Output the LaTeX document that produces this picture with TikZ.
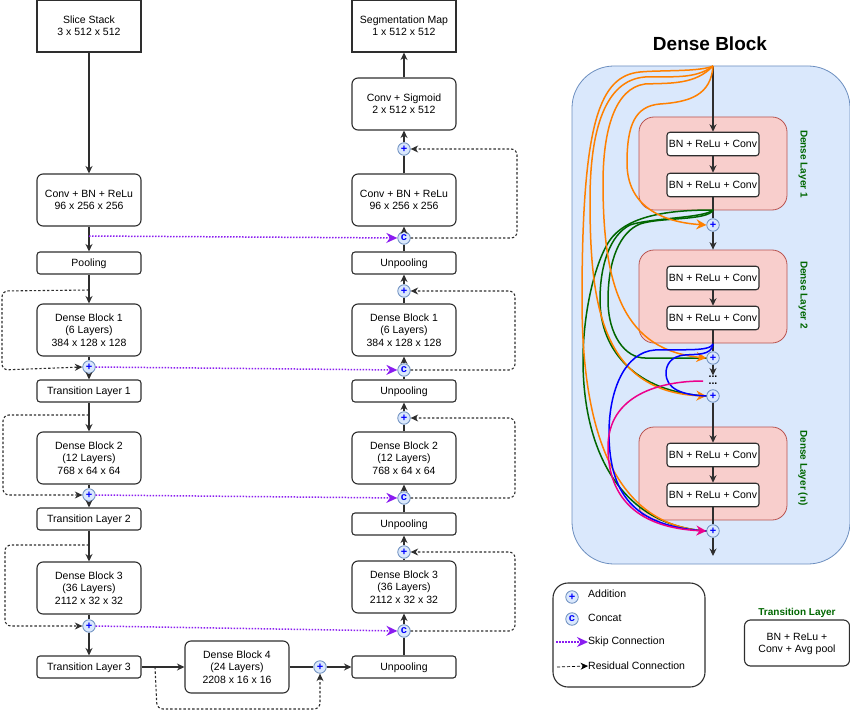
\documentclass[tikz,border=0pt]{standalone}
\usepackage{fontspec}
\setmainfont{Liberation Sans}
\usepackage{xcolor}
\usetikzlibrary{arrows.meta,positioning,calc}
\definecolor{panelblue}{HTML}{DAE8FC}
\definecolor{paneledge}{HTML}{6C8EBF}
\definecolor{layerpink}{HTML}{F8CECC}
\definecolor{layeredge}{HTML}{B85450}
\definecolor{skipviolet}{HTML}{8A1CF0}
\definecolor{leafgreen}{HTML}{006600}
\definecolor{curveorange}{HTML}{FF8000}
\definecolor{edgegray}{HTML}{2E2E2E}
\newcommand{\bodyfont}{\fontsize{10.5}{12.2}\selectfont}
\begin{document}
\begin{tikzpicture}[
    x=1pt, y=-1pt,
    box/.style={rectangle, draw=edgegray, line width=1.1pt, rounded corners=6pt, minimum width=104pt, align=center, inner sep=0pt, text depth=0pt, font=\bodyfont},
    tallbox/.style={box, minimum height=52pt},
    flatbox/.style={box, minimum height=22pt, rounded corners=3pt},
    squarebox/.style={tallbox, rounded corners=0pt},
    convbox/.style={box, fill=white, minimum width=92pt, minimum height=23.5pt, rounded corners=3pt},
    layerbox/.style={rectangle, draw=layeredge, fill=layerpink, line width=0.8pt, rounded corners=15pt, minimum width=148pt, minimum height=93pt},
    addnode/.style={circle, draw=paneledge, fill=panelblue, line width=0.8pt, minimum size=12.5pt, inner sep=0pt, text=blue, font=\fontsize{11}{11}\selectfont\bfseries},
    layerlabel/.style={rotate=-90, text=leafgreen, font=\fontsize{10}{12}\selectfont\bfseries},
    arrow/.style={-{Stealth[length=7.5pt,width=7pt]}, line width=1.1pt, edgegray},
    link/.style={line width=1.1pt, edgegray},
    residual/.style={-{Stealth[length=7.5pt,width=7pt]}, line width=1.1pt, edgegray, dash pattern=on 2.4pt off 2pt, rounded corners=6pt},
    skip/.style={-{Stealth[length=11pt,width=10pt]}, line width=1.5pt, skipviolet, dash pattern=on 1.5pt off 1.5pt},
    curve/.style={line width=1.5pt},
    curvetip/.style={curve, -{Stealth[length=10pt,width=10pt]}}
]
    \useasboundingbox (0,0) rectangle (850,711);

    % Encoder column
    \node[squarebox] (slice) at (89,26) {Slice Stack\\3 x 512 x 512};
    \node[tallbox] (conv) at (89,200) {Conv + BN + ReLu\\96 x 256 x 256};
    \node[flatbox] (pool) at (89,263) {Pooling};
    \node[tallbox] (db1) at (89,330) {Dense Block 1\\(6 Layers)\\384 x 128 x 128};
    \node[flatbox] (tl1) at (89,391) {Transition Layer 1};
    \node[tallbox] (db2) at (89,458) {Dense Block 2\\(12 Layers)\\768 x 64 x 64};
    \node[flatbox] (tl2) at (89,519) {Transition Layer 2};
    \node[tallbox] (db3) at (89,588) {Dense Block 3\\(36 Layers)\\2112 x 32 x 32};
    \node[flatbox] (tl3) at (89,667) {Transition Layer 3};
    \node[tallbox] (db4) at (237,667) {Dense Block 4\\(24 Layers)\\2208 x 16 x 16};

    % Decoder column
    \node[squarebox] (segmap) at (404,26) {Segmentation Map\\1 x 512 x 512};
    \node[tallbox] (sigmoid) at (404,104) {Conv + Sigmoid\\2 x 512 x 512};
    \node[tallbox] (upconv) at (404,200) {Conv + BN + ReLu\\96 x 256 x 256};
    \node[flatbox] (unpool1) at (404,263) {Unpooling};
    \node[tallbox] (updb1) at (404,330) {Dense Block 1\\(6 Layers)\\384 x 128 x 128};
    \node[flatbox] (unpool2) at (404,391) {Unpooling};
    \node[tallbox] (updb2) at (404,458) {Dense Block 2\\(12 Layers)\\768 x 64 x 64};
    \node[flatbox] (unpool3) at (404,524) {Unpooling};
    \node[tallbox] (updb3) at (404,587) {Dense Block 3\\(36 Layers)\\2112 x 32 x 32};
    \node[flatbox] (unpool4) at (404,667) {Unpooling};

    % Addition and concat nodes
    \node[addnode] (add1) at (89,367) {+};
    \node[addnode] (add2) at (89,495) {+};
    \node[addnode] (add3) at (89,626) {+};
    \node[addnode] (add4) at (320,667) {+};
    \node[addnode] (upadd0) at (404,149) {+};
    \node[addnode] (upadd1) at (404,291) {+};
    \node[addnode] (upadd2) at (404,418) {+};
    \node[addnode] (upadd3) at (404,552) {+};
    \node[addnode] (cat0) at (404,238) {c};
    \node[addnode] (cat1) at (404,370) {c};
    \node[addnode] (cat2) at (404,498) {c};
    \node[addnode] (cat3) at (404,631) {c};

    % Free ends of the residual and skip lines
    \coordinate (skipstart) at (89,236);
    \coordinate (res1) at (89,290);
    \coordinate (res2) at (89,415);
    \coordinate (res3) at (89,545);
    \coordinate (res4) at (155,667);

    % Encoder arrows
    \draw[arrow] (slice) -- (conv);
    \draw[arrow] (conv) -- (pool);
    \draw[arrow] (pool) -- (db1);
    \draw[link] (db1) -- (add1);
    \draw[arrow] (add1) -- (tl1);
    \draw[arrow] (tl1) -- (db2);
    \draw[link] (db2) -- (add2);
    \draw[arrow] (add2) -- (tl2);
    \draw[arrow] (tl2) -- (db3);
    \draw[link] (db3) -- (add3);
    \draw[arrow] (add3) -- (tl3);
    \draw[arrow] (tl3) -- (db4);
    \draw[link] (db4) -- (add4);
    \draw[arrow] (add4) -- (unpool4);

    % Decoder arrows
    \draw[link] (unpool4) -- (cat3);
    \draw[arrow] (cat3) -- (updb3);
    \draw[link] (updb3) -- (upadd3);
    \draw[arrow] (upadd3) -- (unpool3);
    \draw[link] (unpool3) -- (cat2);
    \draw[arrow] (cat2) -- (updb2);
    \draw[link] (updb2) -- (upadd2);
    \draw[arrow] (upadd2) -- (unpool2);
    \draw[link] (unpool2) -- (cat1);
    \draw[arrow] (cat1) -- (updb1);
    \draw[link] (updb1) -- (upadd1);
    \draw[arrow] (upadd1) -- (unpool1);
    \draw[link] (unpool1) -- (cat0);
    \draw[arrow] (cat0) -- (upconv);
    \draw[link] (upconv) -- (upadd0);
    \draw[arrow] (upadd0) -- (sigmoid);
    \draw[arrow] (sigmoid) -- (segmap);

    % Residual connections
    \draw[residual] (res1) -- (2,291) -- (2,370) -- (add1.west);
    \draw[residual] (res2) -- (3,415) -- (3,495) -- (add2.west);
    \draw[residual] (res3) -- (5,545) -- (5,626) -- (add3.west);
    \draw[residual] (res4) -- (157,709) -- (320,709) -- (add4.south);
    \draw[residual] (cat0.east) -- (517,238) -- (517,149) -- (upadd0.east);
    \draw[residual] (cat1.east) -- (515,370) -- (515,291) -- (upadd1.east);
    \draw[residual] (cat2.east) -- (515,498) -- (515,418) -- (upadd2.east);
    \draw[residual] (cat3.east) -- (515,631) -- (515,552) -- (upadd3.east);

    % Skip connections
    \draw[skip] (skipstart) -- (cat0.west);
    \draw[skip] (add1.east) -- (cat1.west);
    \draw[skip] (add2.east) -- (cat2.west);
    \draw[skip] (add3.east) -- (cat3.west);

    % Dense block panel
    \node[font=\fontsize{19}{21}\selectfont\bfseries] (title) at (710,44) {Dense Block};
    \node[draw=paneledge, fill=panelblue, line width=0.8pt, rounded corners=42pt, minimum width=278pt, minimum height=498pt] (panel) at (711,315) {};
    \node[layerbox] (layer1) at (713,163.5) {};
    \node[layerbox] (layer2) at (713,296.5) {};
    \node[layerbox] (layer3) at (713,473.5) {};
    \node[convbox] (c11) at (713,144) {BN + ReLu + Conv};
    \node[convbox] (c12) at (713,185) {BN + ReLu + Conv};
    \node[convbox] (c21) at (713,278) {BN + ReLu + Conv};
    \node[convbox] (c22) at (713,318) {BN + ReLu + Conv};
    \node[convbox] (c31) at (713,455) {BN + ReLu + Conv};
    \node[convbox] (c32) at (713,495) {BN + ReLu + Conv};
    \node[layerlabel] (lab1) at (803,164) {Dense Layer 1};
    \node[layerlabel] (lab2) at (803,295) {Dense Layer 2};
    \node[layerlabel] (lab3) at (803,468) {Dense Layer (n)};
    \node[addnode] (p1) at (713,225) {+};
    \node[addnode] (p2) at (713,358) {+};
    \node[addnode] (p3) at (713,396) {+};
    \node[addnode] (p4) at (713,531) {+};
    \node[inner sep=0pt, align=center, font=\fontsize{10.5}{7}\selectfont\bfseries] (gap) at (713,380) {...\\...};

    % Free ends inside the panel
    \coordinate (ptop) at (713,66);
    \coordinate (out1) at (713,210);
    \coordinate (out2) at (713,344);
    \coordinate (pinkstart) at (703,381);
    \coordinate (pbottom) at (713,556);

    % Dense block stem
    \draw[arrow] (ptop) -- (c11);
    \draw[arrow] (c11) -- (c12);
    \draw[link] (c12) -- (p1);
    \draw[arrow] (p1) -- (layer2.north);
    \draw[arrow] (c21) -- (c22);
    \draw[link] (c22) -- (p2);
    \draw[arrow] (p2) -- (gap.north);
    \draw[arrow] (p3) -- (c31);
    \draw[arrow] (c31) -- (c32);
    \draw[link] (c32) -- (p4);
    \draw[arrow] (p4) -- (pbottom);

    % Green curves
    \draw[curve, leafgreen] (out1) .. controls (670,210) and (625,215) .. (608,243) .. controls (592,270) and (583,320) .. (583,360) .. controls (583,450) and (620,525) .. (p4.west);
    \draw[curve, leafgreen] (out1) .. controls (705,218) and (650,218) .. (630,225) .. controls (610,235) and (600,265) .. (600,300) .. controls (600,350) and (635,392) .. (p3.west);
    \draw[curve, leafgreen] (out1) .. controls (708,221) and (660,217) .. (640,224) .. controls (620,232) and (608,260) .. (608,300) .. controls (608,335) and (625,358) .. (645,358) -- (p2.west);

    % Orange curves
    \draw[curve, curveorange] (ptop) .. controls (700,72) and (660,70) .. (640,72) .. controls (600,76) and (582,120) .. (582,300) .. controls (582,400) and (600,525) .. (p4.west);
    \draw[curvetip, curveorange] (ptop) .. controls (695,80) and (670,76) .. (645,77) .. controls (605,80) and (590,130) .. (590,200) .. controls (590,300) and (600,392) .. (p3.west);
    \draw[curvetip, curveorange] (ptop) .. controls (695,85) and (670,83) .. (645,84) .. controls (615,88) and (603,130) .. (603,183) .. controls (603,290) and (625,350) .. (p2.west);
    \draw[curvetip, curveorange] (ptop) .. controls (711,95) and (690,102) .. (660,104) .. controls (635,106) and (627,125) .. (627,163) .. controls (627,205) and (660,222) .. (p1.west);

    % Blue curves
    \draw[curve, blue] (out2) .. controls (710,352) and (680,349) .. (655,350) .. controls (625,352) and (609,390) .. (609,433) .. controls (609,500) and (640,527) .. (p4.west);
    \draw[curve, blue] (out2) .. controls (712,356) and (695,354) .. (685,355) .. controls (670,356) and (666,366) .. (666,373) .. controls (666,388) and (680,395) .. (p3.west);

    % Magenta curve
    \draw[curvetip, magenta] (pinkstart) .. controls (660,381) and (608,395) .. (608,447) .. controls (608,500) and (640,528) .. (p4.west);

    % Legend
    \node[box, minimum width=152pt, minimum height=104pt, rounded corners=15pt] (legend) at (629,635) {};
    \node[addnode] (legadd) at (572,597) {+};
    \node[addnode] (legcat) at (572,619) {c};
    \node[anchor=west, inner sep=0pt, font=\bodyfont] (txtadd) at (588,594) {Addition};
    \node[anchor=west, inner sep=0pt, font=\bodyfont] (txtcat) at (588,618) {Concat};
    \node[anchor=west, inner sep=0pt, font=\bodyfont] (txtskip) at (588,642) {Skip Connection};
    \node[anchor=west, inner sep=0pt, font=\bodyfont] (txtres) at (588,666) {Residual Connection};
    \coordinate (legskip) at (556,642);
    \coordinate (legres) at (557,667);
    \draw[skip] (legskip) -- (txtskip.west);
    \draw[residual, black, line width=0.7pt, dash pattern=on 3pt off 2pt] (legres) -- (txtres.west);

    % Transition layer key
    \node[box, minimum width=105pt, minimum height=46pt] (tlkey) at (797,643) {BN + ReLu +\\Conv + Avg pool};
    \node[text=leafgreen, font=\fontsize{10}{12}\selectfont\bfseries] (tlhead) at (797,613) {Transition Layer};
\end{tikzpicture}
\end{document}
